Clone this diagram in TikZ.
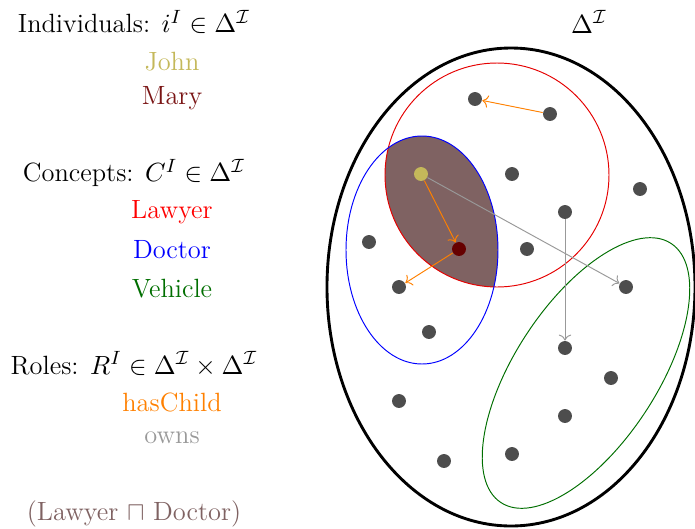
\documentclass[tikz,border=0pt]{standalone}
\usepackage{amsmath,amssymb}
\usepackage{tikz}
\usetikzlibrary{arrows.meta, positioning}

\definecolor{johncol}{RGB}{196,184,90}
\definecolor{marycol}{RGB}{122,21,21}
\definecolor{marydot}{RGB}{102,0,0}
\definecolor{bothcol}{RGB}{127,98,98}
\definecolor{dotgray}{RGB}{77,77,77}
\definecolor{vehcol}{RGB}{0,110,0}

\tikzset{
    dot/.style={circle, fill=dotgray, inner sep=0pt, minimum size=5.8pt},
    rolearrow/.style={->, thin},
    legend/.style={align=center}
}

\begin{document}
\begin{tikzpicture}[x=0.4167pt, y=0.4167pt, font=\fontsize{11pt}{13pt}\selectfont]
    \useasboundingbox (0,0) rectangle (695,-528);
    % left column
    \node[legend] (indiv) at (134,-22) {Individuals: $i^I \in \Delta^{\mathcal{I}}$};
    \node[legend, text=johncol] (john) at (172,-62) {John};
    \node[legend, text=marycol] (mary) at (172,-98) {Mary};
    \node[legend] (conc) at (134,-173) {Concepts: $C^I \in \Delta^{\mathcal{I}}$};
    \node[legend, text=red] (lawyer) at (172,-212) {Lawyer};
    \node[legend, text=blue] (doctor) at (172,-250) {Doctor};
    \node[legend, text=vehcol] (vehicle) at (172,-289) {Vehicle};
    \node[legend] (roles) at (134,-364) {Roles: $R^I \in \Delta^{\mathcal{I}} \times \Delta^{\mathcal{I}}$};
    \node[legend, text=orange] (haschild) at (172,-402) {hasChild};
    \node[legend, text=gray!80] (owns) at (172,-438) {owns};
    \node[legend, text=bothcol] (both) at (134,-514) {(Lawyer $\sqcap$ Doctor)};
    % domain
    \node (domain) at (589,-22) {$\Delta^{\mathcal{I}}$};
    \begin{scope}
        \clip (497,-175) circle [radius=112];
        \fill[bothcol] (422,-250) ellipse [x radius=76, y radius=114];
    \end{scope}
    \draw[red!90!black] (497,-175) circle [radius=112];
    \draw[blue] (422,-250) ellipse [x radius=76, y radius=114];
    \draw[vehcol] (586,-373) ellipse [x radius=155, y radius=71, rotate=56.7];
    \draw[line width=1.2pt] (511,-287) ellipse [x radius=184, y radius=239];
    % elements
    \node[dot] (d1) at (475,-99) {};
    \node[dot] (d2) at (550,-114) {};
    \node[dot, fill=johncol] (dj) at (421,-174) {};
    \node[dot] (d4) at (512,-174) {};
    \node[dot] (d5) at (640,-189) {};
    \node[dot] (d6) at (565,-212) {};
    \node[dot] (d7) at (369,-242) {};
    \node[dot, fill=marydot] (dm) at (459,-249) {};
    \node[dot] (d9) at (527,-249) {};
    \node[dot] (d10) at (399,-287) {};
    \node[dot] (d11) at (626,-287) {};
    \node[dot] (d12) at (429,-332) {};
    \node[dot] (d13) at (565,-348) {};
    \node[dot] (d14) at (611,-378) {};
    \node[dot] (d15) at (399,-401) {};
    \node[dot] (d16) at (565,-416) {};
    \node[dot] (d17) at (512,-454) {};
    \node[dot] (d18) at (444,-461) {};
    % roles
    \draw[rolearrow, orange] (d2) -- (d1);
    \draw[rolearrow, orange] (dj) -- (dm);
    \draw[rolearrow, orange] (dm) -- (d10);
    \draw[rolearrow, gray!80] (dj) -- (d11);
    \draw[rolearrow, gray!80] (d6) -- (d13);
\end{tikzpicture}
\end{document}
